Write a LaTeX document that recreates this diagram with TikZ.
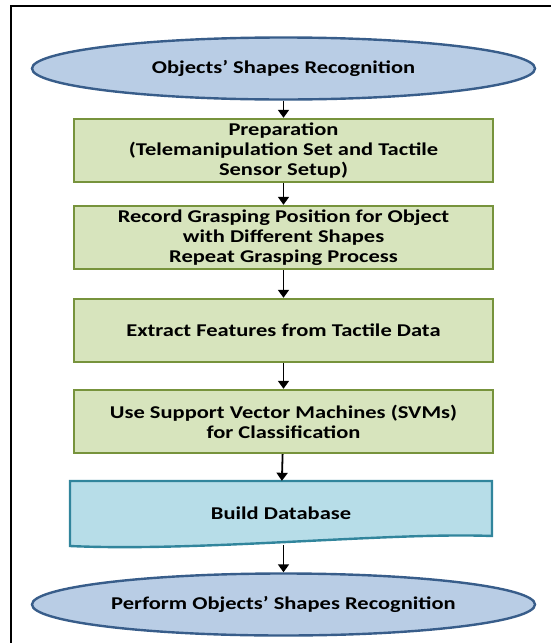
\documentclass[tikz,border=0pt]{standalone}
\usepackage{fontspec}
\setmainfont{Carlito}[FakeStretch=1.25]
\usetikzlibrary{shapes.geometric,arrows.meta}
\definecolor{termfill}{HTML}{B9CDE5}
\definecolor{termdraw}{HTML}{385D8A}
\definecolor{procfill}{HTML}{D7E4BD}
\definecolor{procdraw}{HTML}{77933C}
\definecolor{dbfill}{HTML}{B7DDE8}
\definecolor{dbdraw}{HTML}{31859C}
\begin{document}
\begin{tikzpicture}[x=1pt,y=-1pt,
terminal/.style={
        ellipse,
        draw=termdraw,
        fill=termfill,
        line width=2.4pt,
        minimum width=503pt,
        minimum height=62pt,
        inner sep=0pt,
        font=\bfseries\fontsize{18}{20}\selectfont,
    },
   process/.style = {
   draw=procdraw,
   fill=procfill,
   rectangle,
    minimum width=419pt,
    minimum height=63pt,
    line width = 2.4pt,
    inner sep=0pt,
    align=center,
    font=\bfseries\fontsize{18}{20}\selectfont,
   },
   flow/.style = {line width=1.8pt, -{Triangle[length=8pt,width=11pt]}},
 ]
\useasboundingbox (0,0) rectangle (551,643);
% frame, only top and left sides are shown
\draw[line width=2.6pt] (11,643) -- (11,6) -- (551,6);

\node[terminal] (start) at (283.5,68.5) {Objects' Shapes Recognition};
\node[process] (prep) at (283.5,150.5) {Preparation\\ (Telemanipulation Set and Tactile\\ Sensor Setup)};
\node[process] (record) at (283.5,237.5) {Record Grasping Position for Object\\ with Different Shapes\\ Repeat Grasping Process};
\node[process] (extract) at (283.5,330.5) {Extract Features from Tactile Data};
\node[process] (svm) at (283.5,421.5) {Use Support Vector Machines (SVMs)\\ for Classification};

% database box with wavy bottom
\draw[draw=dbdraw, fill=dbfill, line width=2.4pt]
  (70,481) -- (492,481) -- (492,536)
  .. controls (390,532) and (200,552) .. (70,546) -- cycle;
\node[font=\bfseries\fontsize{18}{20}\selectfont, minimum width=422pt, minimum height=64pt, inner sep=0pt] (db) at (281,513) {Build Database};

\node[terminal] (finish) at (283.5,604.5) {Perform Objects' Shapes Recognition};

\draw[flow] (start) -- (prep);
\draw[flow] (prep) -- (record);
\draw[flow] (record) -- (extract);
\draw[flow] (extract) -- (svm);
\draw[flow] (svm) -- (db);
\draw[flow] (db.south -| finish.north) -- (finish);
\end{tikzpicture}
\end{document}
